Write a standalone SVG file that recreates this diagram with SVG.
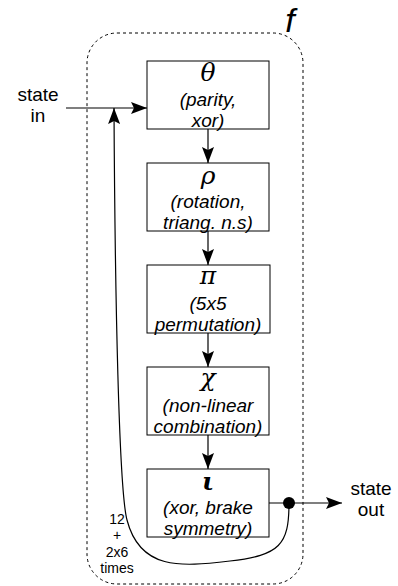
<svg xmlns="http://www.w3.org/2000/svg" width="398" height="586" viewBox="0 0 398 586">
  <style>
    .box { fill: #ffffff; stroke: #000000; stroke-width: 1; }
    .frame { fill: none; stroke: #000000; stroke-width: 1; stroke-dasharray: 3 3; }
    .wire { fill: none; stroke: #000000; stroke-width: 1.2; }
    .greek { font-family: "DejaVu Serif", "Liberation Serif", serif; font-style: italic; font-size: 25px; text-anchor: middle; fill: #000000; }
    .desc { font-family: "Liberation Sans", Arial, sans-serif; font-style: italic; font-size: 19px; text-anchor: middle; fill: #000000; }
    .io { font-family: "Liberation Sans", Arial, sans-serif; font-size: 19px; text-anchor: middle; fill: #000000; }
    .small { font-family: "Liberation Sans", Arial, sans-serif; font-size: 14px; text-anchor: middle; fill: #000000; }
  </style>
  <defs>
    <marker id="arrow" viewBox="0 0 16 12" refX="16" refY="6" markerWidth="16" markerHeight="12" markerUnits="userSpaceOnUse" orient="auto">
      <path d="M0,0 L16,6 L0,12 L3,6 Z" fill="#000000"/>
    </marker>
  </defs>

  <!-- round function f: dashed enclosure -->
  <g id="f-frame">
    <rect class="frame" x="87" y="33" width="216" height="551" rx="30" ry="30"/>
    <text x="290" y="32" font-family="Liberation Sans, Arial, sans-serif" font-style="italic" font-size="34" text-anchor="middle">f</text>
  </g>

  <!-- step boxes -->
  <g id="theta">
    <rect class="box" x="147" y="61" width="122" height="68"/>
    <text class="greek" x="208" y="81">θ</text>
    <text class="desc" x="208" y="106">(parity,</text>
    <text class="desc" x="208" y="127">xor)</text>
  </g>
  <g id="rho">
    <rect class="box" x="147" y="163" width="122" height="68"/>
    <text class="greek" x="208" y="184">ρ</text>
    <text class="desc" x="208" y="208">(rotation,</text>
    <text class="desc" x="208" y="229">triang. n.s)</text>
  </g>
  <g id="pi">
    <rect class="box" x="147" y="265" width="123" height="68"/>
    <text class="greek" x="208" y="284">π</text>
    <text class="desc" x="208" y="310">(5x5</text>
    <text class="desc" x="208" y="331">permutation)</text>
  </g>
  <g id="chi">
    <rect class="box" x="147" y="367" width="122" height="68"/>
    <text class="greek" x="208" y="386">χ</text>
    <text class="desc" x="208" y="412">(non-linear</text>
    <text class="desc" x="208" y="433">combination)</text>
  </g>
  <g id="iota">
    <rect class="box" x="147" y="469" width="122" height="68"/>
    <text class="greek" x="208" y="490" font-weight="bold">ι</text>
    <text class="desc" x="208" y="514">(xor, brake</text>
    <text class="desc" x="208" y="535">symmetry)</text>
  </g>

  <!-- external labels -->
  <g id="state-in">
    <text class="io" x="38" y="101">state</text>
    <text class="io" x="38" y="122">in</text>
  </g>
  <g id="state-out">
    <text class="io" x="371" y="495">state</text>
    <text class="io" x="371" y="516">out</text>
  </g>
  <g id="round-count">
    <text class="small" x="117" y="524">12</text>
    <text class="small" x="117" y="540">+</text>
    <text class="small" x="117" y="557">2x6</text>
    <text class="small" x="117" y="573">times</text>
  </g>

  <!-- connectors -->
  <g id="connectors">
    <line class="wire" x1="66" y1="108" x2="147" y2="108" marker-end="url(#arrow)"/>
    <line class="wire" x1="208" y1="129" x2="208" y2="163" marker-end="url(#arrow)"/>
    <line class="wire" x1="208" y1="231" x2="208" y2="265" marker-end="url(#arrow)"/>
    <line class="wire" x1="208" y1="333" x2="208" y2="367" marker-end="url(#arrow)"/>
    <line class="wire" x1="208" y1="435" x2="208" y2="469" marker-end="url(#arrow)"/>
    <line class="wire" x1="269" y1="503" x2="342" y2="503" marker-end="url(#arrow)"/>
    <path class="wire" d="M289,503 C289,545 280,555 230,561 C180,567 140,570 127,520 C119,490 115,300 114,108" marker-end="url(#arrow)"/>
    <circle cx="289" cy="503" r="6" fill="#000000"/>
  </g>
</svg>
